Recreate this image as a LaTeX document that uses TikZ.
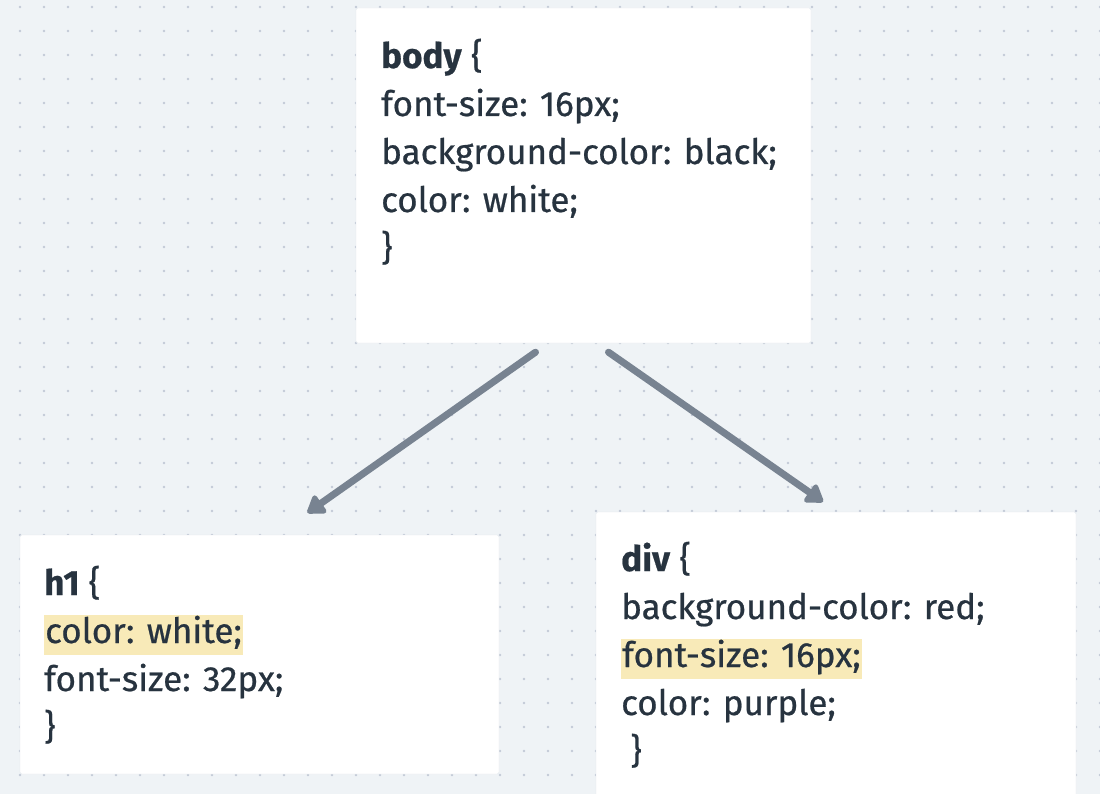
\documentclass[tikz,border=0pt]{standalone}
\usepackage{fontspec}
\setmainfont{Fira Sans}[FakeBold=0.6]
\usetikzlibrary{arrows.meta}

\definecolor{canvas}{HTML}{EFF3F6}
\definecolor{griddot}{HTML}{C2CAD6}
\definecolor{ink}{HTML}{27333F}
\definecolor{linkgray}{HTML}{788391}
\definecolor{hilite}{HTML}{F8EAB8}
\definecolor{cardedge}{HTML}{E2E7EC}

\tikzset{
	card/.style={draw=cardedge, fill=white, rounded corners=2pt, inner sep=0pt},
	code/.style={anchor=base west, inner sep=0pt, text=ink, font=\fontsize{35}{40}\selectfont},
	hl/.style={fill=hilite, inner xsep=1pt},
	link/.style={draw=linkgray, line width=7pt, line cap=round, -{Triangle[length=19pt, width=24pt, round]}}
}

\begin{document}
\begin{tikzpicture}[x=1pt, y=-1pt]
	\useasboundingbox (0,0) rectangle (1100,794);
	\fill[canvas] (0,0) rectangle (1100,794);
	\foreach \i in {0,...,45}
		\foreach \j in {0,...,32}
			\fill[griddot] (20+24*\i, 7+24*\j) circle (1.3pt);

	\node[card, minimum width=455pt, minimum height=335pt] (body) at (583.5,175.5) {};
	\node[card, minimum width=479pt, minimum height=239pt] (h1) at (259.5,654.5) {};
	\node[card, minimum width=480pt, minimum height=300pt] (div) at (836,662) {};

	\node[code] (body1) at (381,68) {\textbf{body} \{};
	\node[code] (body2) at (381,116) {font-size: 16px;};
	\node[code] (body3) at (381,164) {background-color: black;};
	\node[code] (body4) at (381,212) {color: white;};
	\node[code] (body5) at (381,260) {\}};

	\node[code] (h1a) at (44,595) {\textbf{h1} \{};
	\node[code, hl] (h1b) at (44,643) {color: white;\strut};
	\node[code] (h1c) at (44,691) {font-size: 32px;};
	\node[code] (h1d) at (44,739) {\}};

	\node[code] (diva) at (621,571) {\textbf{div} \{};
	\node[code] (divb) at (621,619) {background-color: red;};
	\node[code, hl] (divc) at (621,667) {font-size: 16px;\strut};
	\node[code] (divd) at (621,715) {color: purple;};
	\node[code] (dive) at (621,763) {~\}};

	\draw[link] ([xshift=-48pt, yshift=-9pt]body.south) -- ([xshift=48pt, yshift=22pt]h1.north);
	\draw[link] ([xshift=25pt, yshift=-9pt]body.south) -- ([xshift=-13pt, yshift=10pt]div.north);
\end{tikzpicture}
\end{document}
